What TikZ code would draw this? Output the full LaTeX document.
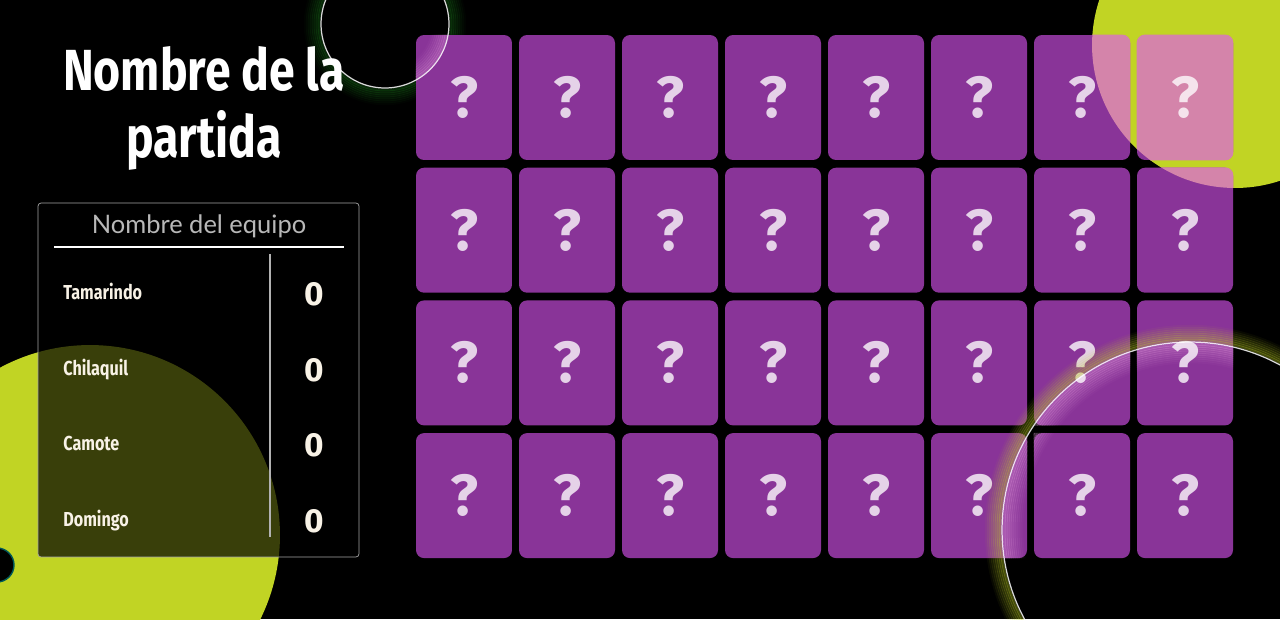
\documentclass[tikz,border=0pt]{standalone}
\usepackage{fontspec}
\setmainfont{Fira Sans}
\newfontfamily\headfont{Lato}
\usepackage{xcolor}
\definecolor{lime}{RGB}{193,212,36}
\definecolor{cardpurple}{RGB}{137,52,152}
\definecolor{cardpink}{RGB}{212,132,170}
\definecolor{cream}{RGB}{248,242,230}
\definecolor{glowgreen}{RGB}{30,140,30}
\definecolor{glowpink}{RGB}{240,170,230}
\newcommand{\narrow}[1]{\scalebox{0.8}[1]{#1}}

\begin{document}
\begin{tikzpicture}
  [x=0.02cm,y=-0.02cm,
   card/.style={rectangle,rounded corners=0.16cm,minimum width=1.92cm,minimum height=2.5cm,inner sep=0pt,fill=cardpurple},
   qm/.style={text=white,text opacity=0.78,font=\bfseries\fontsize{33}{33}\selectfont,inner sep=0pt},
   team/.style={anchor=base west,text=cream,font=\bfseries\fontsize{11.5}{12}\selectfont,inner sep=0pt},
   score/.style={anchor=base,text=cream,font=\bfseries\fontsize{19}{20}\selectfont,inner sep=0pt},
   title/.style={anchor=base,text=white,font=\bfseries\fontsize{33}{34}\selectfont,inner sep=0pt},
   glow/.style={line width=0.05cm}]
  \useasboundingbox (0,0) rectangle (1280,619);
  \fill[black] (0,0) rectangle (1280,619);

  % background circles
  \fill[lime] (1235,45) circle (2.86cm);
  \fill[lime] (90,535) circle (3.8cm);
  \fill[black] (-3,565) circle (0.34cm);
  \draw[teal!70!black,line width=0.8pt] (-3,565) circle (0.34cm);
  \foreach \k [evaluate=\k as \rr using 1.28+0.04*\k, evaluate=\k as \o using 0.32*(1-\k/9)] in {1,...,8}
    \draw[glow,glowgreen,opacity=\o] (385,24) circle (\rr cm);

  % title
  \node[title] (name1) at (204,90) {\narrow{Nombre de la}};
  \node[title] (name2) at (204,157) {\narrow{partida}};

  % scoreboard
  \node[draw=white!65!black,fill=black,fill opacity=0.7,rounded corners=0.06cm,
        minimum width=6.42cm,minimum height=7.08cm] (board) at (198.5,380) {};
  \node[text=white!72!black,font=\headfont\fontsize{14.5}{15}\selectfont] (team) at (199,226) {Nombre del equipo};
  \draw[white,line width=0.8pt] (54,247) -- (344,247);
  \draw[white!70!black,line width=0.8pt] (270,254) -- (270,537);
  \foreach \name/\y [count=\i] in {Tamarindo/299,Chilaquil/375,Camote/450,Domingo/526}
  {
    \node[team] (t\i) at (63,\y) {\narrow{\name}};
    \node[score] (s\i) at (314,\y+6) {0};
  }

  % cards
  \foreach \r in {0,...,3}
    \foreach \c in {0,...,7}
      \node[card] (c\r\c) at (464+103*\c,97.5+132.7*\r) {};
  \begin{scope}
    \clip (1235,45) circle (2.86cm);
    \foreach \r/\c in {0/6,0/7,1/6,1/7}
      \fill[cardpink,rounded corners=0.16cm] (c\r\c.south west) rectangle (c\r\c.north east);
  \end{scope}

  % glow inside the rings, on the cards only
  \begin{scope}
    \clip \foreach \r in {0,...,3}{\foreach \c in {0,...,7}{(c\r\c.south west) rectangle (c\r\c.north east)}};
    \foreach \k [evaluate=\k as \rr using 1.28-0.04*\k, evaluate=\k as \o using 0.3*(1-\k/9)] in {1,...,8}
      \draw[glow,glowpink,opacity=\o] (385,24) circle (\rr cm);
    \foreach \k [evaluate=\k as \rr using 3.76-0.04*\k, evaluate=\k as \o using 0.35*(1-\k/11)] in {1,...,10}
      \draw[glow,glowpink,opacity=\o] (1190,530) circle (\rr cm);
  \end{scope}

  \foreach \r in {0,...,3}
    \foreach \c in {0,...,7}
      \node[qm] (q\r\c) at (c\r\c) {?};

  % rings
  \foreach \k [evaluate=\k as \rr using 3.76+0.04*\k, evaluate=\k as \o using 0.4*(1-\k/9)] in {1,...,8}
    \draw[glow,lime,opacity=\o] (1190,530) circle (\rr cm);
  \draw[white,opacity=0.85,line width=0.7pt] (1190,530) circle (3.76cm);
  \draw[white,opacity=0.85,line width=0.7pt] (385,24) circle (1.28cm);
\end{tikzpicture}
\end{document}
